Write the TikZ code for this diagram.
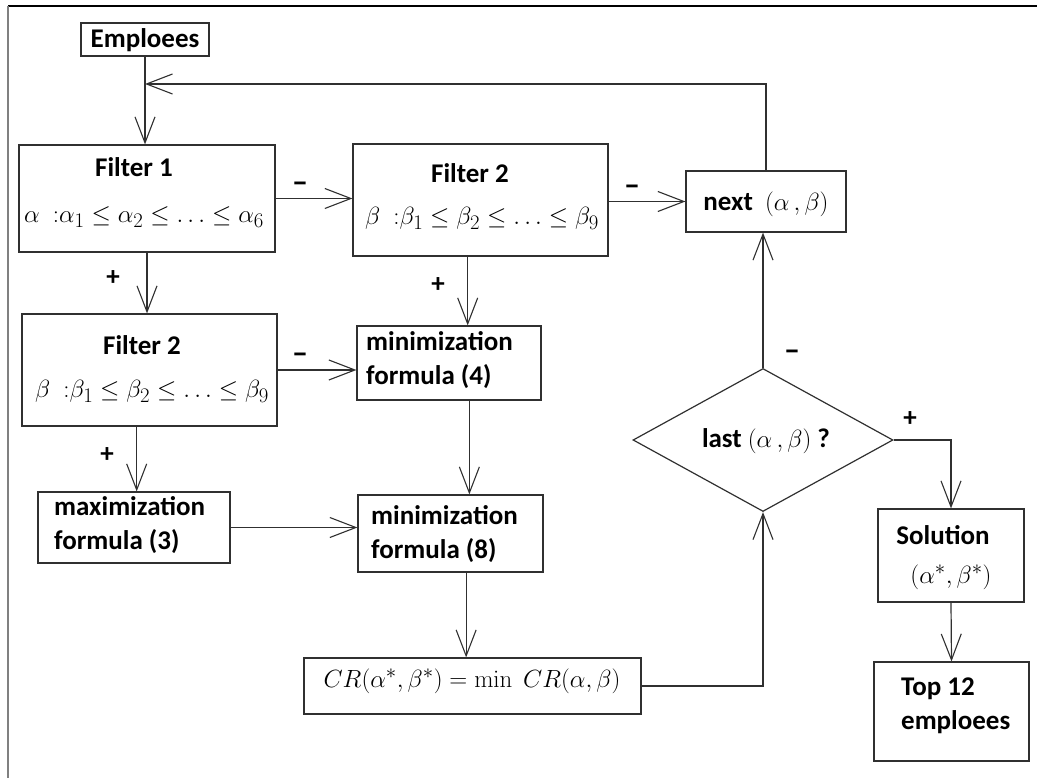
\documentclass[tikz,border=0pt]{standalone}
\usepackage[no-math]{fontspec}
\setmainfont{Carlito}
\usetikzlibrary{arrows.meta,shapes.geometric,calc}
\definecolor{lc}{HTML}{303030}
\begin{document}
\begin{tikzpicture}[x=1pt,y=-1pt,
  box/.style={draw=lc, line width=1.2pt, rectangle, inner sep=0pt},
  arr/.style={draw=lc, line width=1.2pt, -{Straight Barb[length=26pt,width=20pt,line width=1.1pt]}},
  txt/.style={font=\bfseries\fontsize{27}{34}\selectfont, inner sep=0pt},
  mth/.style={font=\fontsize{29}{34}\selectfont, inner sep=0pt},
  sgn/.style={font=\bfseries\fontsize{27}{30}\selectfont, inner sep=0pt},
  dsh/.style={font=\bfseries\fontsize{32}{30}\selectfont, inner sep=0pt}]
\useasboundingbox (0,0) rectangle (1037,778);
% frame
\draw[black, line width=2pt] (8,6) -- (1037,6);
\draw[gray, line width=2pt] (8,6) -- (8,778);
% boxes
\node[box, minimum width=128pt, minimum height=33pt] (emp) at (145,39.5) {};
\node[box, minimum width=256pt, minimum height=107pt] (f1) at (147,198.5) {};
\node[box, minimum width=255pt, minimum height=112pt] (f2a) at (480.5,200) {};
\node[box, minimum width=160pt, minimum height=61pt] (next) at (766,201.5) {};
\node[box, minimum width=255pt, minimum height=112pt] (f2b) at (149.5,370) {};
\node[box, minimum width=184pt, minimum height=74pt] (min4) at (449,363) {};
\node[box, minimum width=192pt, minimum height=71pt] (max3) at (134,527.5) {};
\node[box, minimum width=185pt, minimum height=77pt] (min8) at (450.5,533.5) {};
\node[box, minimum width=337pt, minimum height=56pt] (cr) at (472.5,686) {};
\node[draw=lc, line width=1.2pt, diamond, inner sep=0pt, minimum width=260pt, minimum height=143pt] (dia) at (763,440) {};
\node[box, minimum width=146pt, minimum height=93pt] (sol) at (951,555.5) {};
\node[box, minimum width=155pt, minimum height=99pt] (top) at (951.5,711.5) {};
% texts
\node[txt] (temp) at (145,40) {Emploees};
\node[txt] (tf1) at (134,167) {Filter 1};
\node[mth] (mf1) at (144,217) {$\alpha\ \ {:}\alpha_1\le\alpha_2\le\ldots\le\alpha_6$};
\node[txt] (tf2a) at (470,173) {Filter 2};
\node[mth] (mf2a) at (482,218) {$\beta\ \ {:}\beta_1\le\beta_2\le\ldots\le\beta_9$};
\node[txt] (tnext) at (766,204) {next\ \ \mdseries$(\alpha\,,\beta)$};
\node[txt] (tf2b) at (142,345) {Filter 2};
\node[mth] (mf2b) at (152,391) {$\beta\ \ {:}\beta_1\le\beta_2\le\ldots\le\beta_9$};
\node[txt, anchor=west, align=left] (tmin4) at (366,360) {minimization\\formula (4)};
\node[txt, anchor=west, align=left] (tmax3) at (54,525) {maximization\\formula (3)};
\node[txt, anchor=west, align=left] (tmin8) at (371,534) {minimization\\formula (8)};
\node[mth] (tcr) at (472,681) {$CR(\alpha^*,\beta^*)=\min\ CR(\alpha,\beta)$};
\node[txt] (tdia) at (766,441) {last \mdseries$(\alpha\,,\beta)$ \bfseries ?};
\node[txt] (tsol) at (943,535) {Solution};
\node[mth] (msol) at (951,577) {$(\alpha^*,\beta^*)$};
\node[txt, anchor=west, align=left] (ttop) at (901,706) {Top 12\\emploees};
% signs
\node[dsh] (s1) at (300,187) {--};
\node[dsh] (s2) at (632,190) {--};
\node[dsh] (s3) at (300,358) {--};
\node[dsh] (s4) at (792,355) {--};
\node[sgn] (p1) at (113,278) {+};
\node[sgn] (p2) at (438,285) {+};
\node[sgn] (p3) at (107,455) {+};
\node[sgn] (p4) at (910,419) {+};
% connectors
\coordinate (loopend) at (145,84);
\draw[arr] (emp.south) -- (emp.south |- f1.north);
\draw[arr] (next.north) |- (loopend);
\draw[arr] (f1.east) -- (f1.east -| f2a.west);
\draw[arr] (next.west -| f2a.east) -- (next.west);
\draw[arr] (f1.south) -- (f1.south |- f2b.north);
\draw[arr] (f2b.east) -- (f2b.east -| min4.west);
\coordinate (f2as) at ($(f2a.south west)!0.45!(f2a.south east)$);
\draw[arr] (f2as) -- (f2as |- min4.north);
\coordinate (f2bs) at ($(f2b.south west)!0.45!(f2b.south east)$);
\draw[arr] (f2bs) -- (f2bs |- max3.north);
\coordinate (min4s) at ($(min4.south west)!0.61!(min4.south east)$);
\draw[arr] (min4s) -- (min4s |- min8.north);
\draw[arr] (max3.east) -- (max3.east -| min8.west);
\coordinate (min8s) at ($(min8.south west)!0.584!(min8.south east)$);
\draw[arr] (min8s) -- (min8s |- cr.north);
\draw[arr] (cr.east) -| (dia.south);
\draw[arr] (dia.north) -- (dia.north |- next.south);
\draw[arr] (dia.east) -| (sol.north);
\draw[arr] (sol.south) -- (top.north);
\end{tikzpicture}
\end{document}
